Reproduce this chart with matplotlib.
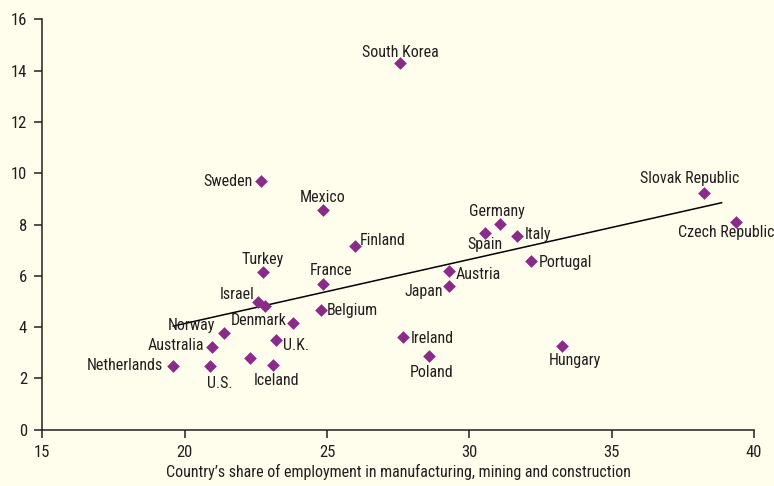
import matplotlib
matplotlib.use("Agg")
import matplotlib.pyplot as plt

plt.rcParams['font.family'] = ['Roboto Condensed', 'DejaVu Sans']

countries = ["South Korea", "Sweden", "Mexico", "Finland", "Turkey", "France",
             "Israel", "", "Belgium", "Denmark", "Norway", "Australia", "U.K.",
             "", "U.S.", "Iceland", "Netherlands", "Germany", "Spain", "Italy",
             "Portugal", "Austria", "Japan", "Ireland", "Poland", "Hungary",
             "Slovak Republic", "Czech Republic"]
share_x = [27.56, 22.68, 24.86, 25.98, 22.75, 24.86,
           22.58, 22.83, 24.79, 23.80, 21.39, 20.97, 23.20,
           22.28, 20.89, 23.09, 19.59, 31.07, 30.56, 31.66,
           32.17, 29.27, 29.27, 27.67, 28.57, 33.25,
           38.24, 39.35]
value_y = [14.30, 9.69, 8.57, 7.15, 6.14, 5.67,
           4.97, 4.82, 4.66, 4.17, 3.78, 3.21, 3.50,
           2.81, 2.48, 2.53, 2.50, 8.01, 7.67, 7.56,
           6.58, 6.18, 5.61, 3.60, 2.86, 3.27,
           9.24, 8.11]
trend_x = [19.60, 38.86]
trend_y = [4.04, 8.85]
x_ticks = [15, 20, 25, 30, 35, 40]
y_ticks = [0, 2, 4, 6, 8, 10, 12, 14, 16]
x_label = "Country\u2019s share of employment in manufacturing, mining and construction"

# label placement: (dx px, dy px, ha)
placement = {
    "South Korea": (0, 10, "center"), "Sweden": (-8, 0, "right"),
    "Mexico": (0, 12, "center"), "Finland": (5, 6, "left"),
    "Turkey": (0, 13, "center"), "France": (8, 14, "center"),
    "Israel": (-4, 8, "right"), "Belgium": (6, 0, "left"),
    "Denmark": (-6, 2, "right"), "Norway": (-9, 7, "right"),
    "Australia": (-8, 2, "right"), "U.K.": (7, -6, "left"),
    "U.S.": (10, -17, "center"), "Iceland": (4, -16, "center"),
    "Netherlands": (-10, 0, "right"), "Germany": (-3, 13, "center"),
    "Spain": (0, -12, "center"), "Italy": (8, 1, "left"),
    "Portugal": (8, -2, "left"), "Austria": (7, -3, "left"),
    "Japan": (-6, -6, "right"), "Ireland": (8, -1, "left"),
    "Poland": (3, -16, "center"), "Hungary": (13, -15, "center"),
    "Slovak Republic": (-14, 14, "center"), "Czech Republic": (-9, -11, "center"),
}

bg = "#fffdeb"
ink = "#231f20"
fig = plt.figure(figsize=(7.74, 4.86), dpi=100, facecolor=bg)
ax = fig.add_axes([0.0547, 0.1158, 0.9195, 0.8444], facecolor=bg)

ax.plot(trend_x, trend_y, color="black", lw=1.1, zorder=2)
ax.scatter(share_x, value_y, marker="D", s=42, color="#8c2a8c", zorder=3, linewidths=0)

for name, x, y in zip(countries, share_x, value_y):
    if not name:
        continue
    dx, dy, ha = placement[name]
    ax.annotate(name, (x, y), xytext=(dx, dy), textcoords="offset pixels",
                ha=ha, va="center", fontsize=11.5, color=ink, zorder=4)

ax.set_xlim(15, 40)
ax.set_ylim(0, 16)
ax.set_xticks(x_ticks)
ax.set_yticks(y_ticks)
for s in ["top", "right"]:
    ax.spines[s].set_visible(False)
for s in ["left", "bottom"]:
    ax.spines[s].set_linewidth(1.1)
    ax.spines[s].set_color(ink)
ax.tick_params(direction="out", length=6, width=1.1, labelsize=12, colors=ink, pad=5)
ax.set_xlabel(x_label, fontsize=11.5, color=ink, labelpad=3)

fig.savefig("out.png", dpi=100, facecolor=bg)
